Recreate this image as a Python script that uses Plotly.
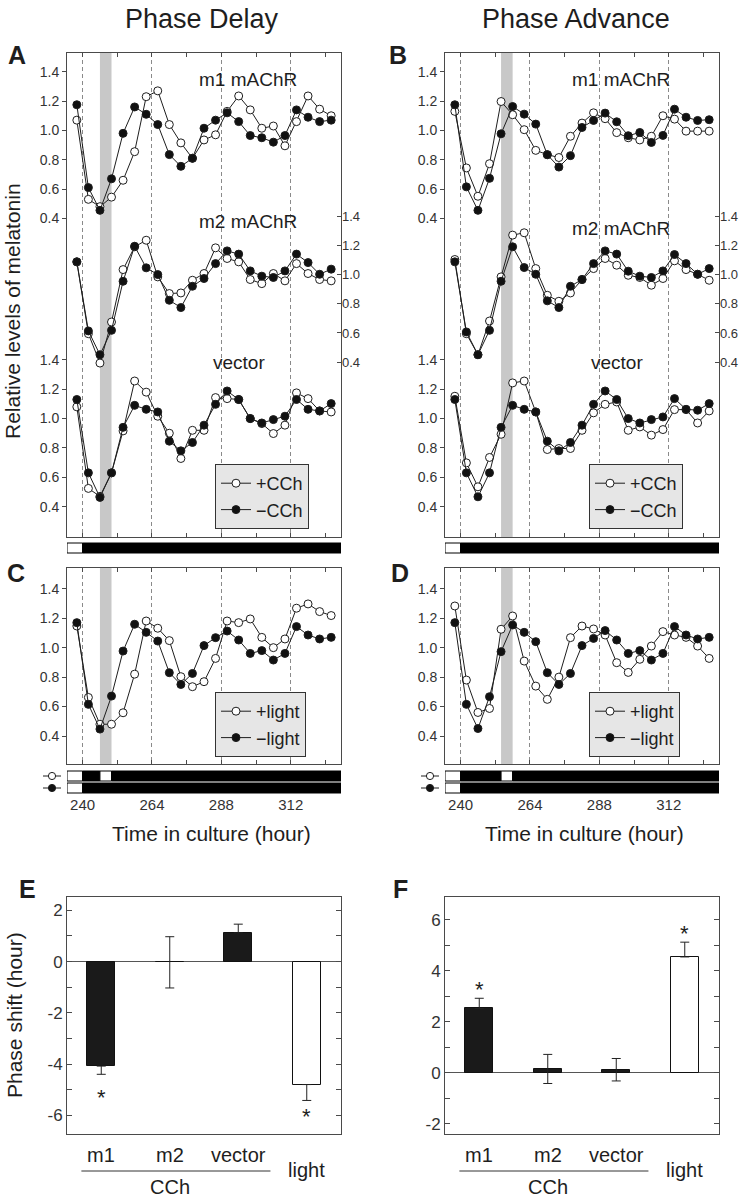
import plotly.graph_objects as go

W, H = 744, 1199
FONT = "Liberation Sans, Arial, Helvetica, sans-serif"
INK = "#1e1e1e"
FRAME = "#4a4a4a"

# ---------------- data ----------------
hours = [238, 242, 246, 250, 254, 258, 262, 266, 270, 274, 278, 282,
         286, 290, 294, 298, 302, 306, 310, 314, 318, 322, 326]

# Panel A: phase delay (CCh pulse 246-250 h)
delay_m1_pos = [1.07, 0.53, 0.48, 0.545, 0.66, 0.855, 1.23, 1.27, 1.04, 0.915, 0.81, 0.935,
                0.97, 1.13, 1.235, 1.14, 1.015, 1.03, 0.895, 1.06, 1.235, 1.145, 1.10]
delay_m1_neg = [1.175, 0.61, 0.455, 0.67, 0.98, 1.16, 1.11, 1.04, 0.835, 0.755, 0.81, 1.015,
                1.07, 1.12, 1.06, 0.965, 0.95, 0.92, 0.965, 1.14, 1.09, 1.06, 1.07]
delay_m2_pos = [1.087, 0.595, 0.394, 0.675, 1.034, 1.19, 1.235, 0.984, 0.87, 0.874, 0.961, 1.007,
                1.183, 1.11, 1.087, 0.966, 0.938, 1.007, 0.957, 1.075, 1.007, 0.966, 0.957]
delay_m2_neg = [1.087, 0.614, 0.451, 0.618, 0.954, 1.194, 1.046, 1.0, 0.824, 0.774, 0.92, 0.973,
                1.075, 1.162, 1.14, 1.025, 0.989, 0.98, 1.025, 1.14, 1.082, 1.002, 1.037]
delay_vec_pos = [1.08, 0.524, 0.47, 0.63, 0.916, 1.256, 1.18, 1.016, 0.9, 0.728, 0.92, 0.92,
                 1.143, 1.136, 1.13, 1.0, 0.966, 0.898, 0.955, 1.175, 1.136, 1.052, 1.045]
delay_vec_neg = [1.13, 0.63, 0.463, 0.63, 0.94, 1.09, 1.063, 1.045, 0.846, 0.78, 0.837, 0.955,
                 1.097, 1.188, 1.13, 1.0, 0.97, 0.993, 1.016, 1.13, 1.063, 1.052, 1.102]

# Panel B: phase advance (CCh pulse 254-258 h)
adv_m1_pos = [1.13, 0.744, 0.551, 0.773, 1.197, 1.107, 1.005, 0.864, 0.835, 0.815, 0.96, 1.05,
              1.12, 1.08, 0.985, 0.95, 0.935, 0.96, 1.10, 1.077, 0.995, 0.995, 0.995]
adv_m1_neg = [1.175, 0.615, 0.455, 0.673, 0.977, 1.163, 1.111, 1.043, 0.834, 0.75, 0.828, 1.02,
              1.068, 1.118, 1.059, 0.964, 0.986, 0.918, 0.966, 1.145, 1.09, 1.068, 1.073]
adv_m2_pos = [1.103, 0.595, 0.451, 0.682, 0.984, 1.27, 1.286, 1.041, 0.858, 0.817, 0.874, 0.966,
              1.041, 1.11, 1.064, 0.995, 0.98, 0.927, 0.973, 1.094, 1.034, 1.002, 0.961]
adv_m2_neg = [1.087, 0.607, 0.451, 0.618, 0.954, 1.19, 1.048, 1.002, 0.82, 0.774, 0.92, 0.966,
              1.075, 1.162, 1.14, 1.023, 0.989, 0.98, 1.025, 1.137, 1.075, 1.002, 1.041]
adv_vec_pos = [1.152, 0.698, 0.535, 0.735, 0.893, 1.243, 1.256, 1.045, 0.789, 0.796, 0.796, 0.92,
               1.039, 1.097, 1.113, 0.92, 0.943, 0.887, 0.925, 1.061, 1.061, 0.97, 1.052]
adv_vec_neg = [1.13, 0.63, 0.467, 0.63, 0.94, 1.09, 1.063, 1.045, 0.846, 0.78, 0.837, 0.955,
               1.097, 1.188, 1.13, 1.0, 0.97, 0.993, 1.011, 1.136, 1.063, 1.057, 1.102]

# Panel C / D: light pulses
delay_light_pos = [1.147, 0.662, 0.48, 0.48, 0.558, 0.82, 1.181, 1.132, 1.048, 0.803, 0.735, 0.769,
                   0.927, 1.181, 1.17, 1.195, 1.07, 1.0, 1.059, 1.268, 1.297, 1.245, 1.218]
delay_light_neg = [1.17, 0.615, 0.447, 0.671, 0.977, 1.159, 1.104, 1.045, 0.83, 0.75, 0.825, 1.014,
                   1.068, 1.113, 1.052, 0.961, 0.98, 0.916, 0.961, 1.143, 1.086, 1.059, 1.07]
adv_light_pos = [1.283, 0.78, 0.56, 0.587, 1.125, 1.215, 0.909, 0.739, 0.649, 0.8, 1.068, 1.147,
                 1.127, 1.086, 0.898, 0.832, 0.921, 1.011, 1.109, 1.086, 1.07, 1.011, 0.927]
adv_light_neg = [1.17, 0.615, 0.451, 0.667, 0.973, 1.154, 1.104, 1.041, 0.83, 0.75, 0.825, 1.014,
                 1.063, 1.116, 1.052, 0.961, 0.98, 0.916, 0.961, 1.143, 1.086, 1.059, 1.07]

# schedule
lights_off = 240
pulse_delay = (246, 250)
pulse_advance = (254, 258)

# Panels E / F: phase shifts
groups = ["m1", "m2", "vector", "light"]
delay_shift = [-4.08, -0.03, 1.12, -4.8]
delay_err_plus = [0.0, 1.0, 0.34, 0.0]
delay_err_minus = [0.32, 1.0, 0.0, 0.62]
adv_shift = [2.52, 0.15, 0.12, 4.54]
adv_err_plus = [0.4, 0.57, 0.44, 0.58]
adv_err_minus = [0.0, 0.57, 0.44, 0.0]
bar_fill = ["#1a1a1a", "#1a1a1a", "#1a1a1a", "#ffffff"]
signif = [True, False, False, True]

time_ticks = [240, 264, 288, 312]
time_minor = [252, 276, 300, 324]
time_range = [234.6, 329.4]
mel_ticks = [0.4, 0.6, 0.8, 1.0, 1.2, 1.4]

# ---------------- helpers ----------------
def px(x):
    return x / W

def py(y):
    return 1 - y / H

fig = go.Figure()

def add_pair(xa, ya, pos, neg, names, legend, show):
    common = dict(x=hours, mode="lines+markers", xaxis=xa, yaxis=ya,
                  line=dict(color=INK, width=1), legend=legend, showlegend=show)
    fig.add_trace(go.Scatter(y=pos, name=names[0],
                             marker=dict(symbol="circle", size=8, color="white",
                                         line=dict(color=INK, width=1)), **common))
    fig.add_trace(go.Scatter(y=neg, name=names[1],
                             marker=dict(symbol="circle", size=8, color="#111111",
                                         line=dict(color=INK, width=1)), **common))

cch = ["+CCh", "\u2212CCh"]
lgt = ["+light", "\u2212light"]
add_pair("x", "y", delay_m1_pos, delay_m1_neg, cch, "legend", True)
add_pair("x", "y2", delay_m2_pos, delay_m2_neg, cch, "legend", False)
add_pair("x", "y3", delay_vec_pos, delay_vec_neg, cch, "legend", False)
add_pair("x2", "y4", adv_m1_pos, adv_m1_neg, cch, "legend2", True)
add_pair("x2", "y5", adv_m2_pos, adv_m2_neg, cch, "legend2", False)
add_pair("x2", "y6", adv_vec_pos, adv_vec_neg, cch, "legend2", False)
add_pair("x3", "y7", delay_light_pos, delay_light_neg, lgt, "legend3", True)
add_pair("x4", "y8", adv_light_pos, adv_light_neg, lgt, "legend4", True)

def add_bars(xa, ya, vals, ep, em):
    fig.add_trace(go.Bar(x=list(range(len(groups))), y=vals, xaxis=xa, yaxis=ya, width=0.41,
                         marker=dict(color=bar_fill, line=dict(color="#111111", width=1)),
                         error_y=dict(type="data", array=ep, arrayminus=em, color="#222222",
                                      thickness=1, width=4.5),
                         showlegend=False))

add_bars("x5", "y9", delay_shift, delay_err_plus, delay_err_minus)
add_bars("x6", "y10", adv_shift, adv_err_plus, adv_err_minus)

# ---------------- axes ----------------
def time_axis(dom, anchor, labels):
    return dict(domain=[px(dom[0]), px(dom[1])], anchor=anchor, range=time_range,
                tickvals=time_ticks, ticks="inside", ticklen=4, tickcolor=FRAME,
                showticklabels=labels, tickfont=dict(family=FONT, size=15, color="#333333"),
                ticklabelstandoff=27,
                showgrid=True, gridcolor="#8a8a8a", gridwidth=1, griddash="4px,3px",
                minor=dict(tickvals=time_minor, ticks="inside", ticklen=4, tickcolor=FRAME,
                           showgrid=False),
                showline=True, linecolor=FRAME, linewidth=1, mirror="ticks", zeroline=False)

def mel_axis(rng, anchor, side="left", overlay=None, dom=None, frame=False):
    right = side == "right"
    d = dict(range=rng, anchor=anchor, side=side, tickvals=mel_ticks, tickformat=".1f",
             ticks="inside" if right else "outside", ticklen=4, tickcolor=FRAME,
             tickfont=dict(family=FONT, size=13 if right else 14, color="#333333"),
             showgrid=False, zeroline=False, showline=frame, linecolor=FRAME,
             linewidth=1, mirror=True if frame else False)
    if overlay:
        d["overlaying"] = overlay
    if dom:
        d["domain"] = [py(dom[1]), py(dom[0])]
    return d

AB_y = (53, 537)
CD_y = (568, 764)
EF_y = (897, 1134)
left_x = (67, 341)
right_x = (445, 719)

layout_axes = dict(
    xaxis=time_axis(left_x, "y", False),
    yaxis=mel_axis([-1.773, 1.528], "x", dom=AB_y, frame=True),
    yaxis2=mel_axis([-0.797, 2.517], "x", side="right", overlay="y"),
    yaxis3=mel_axis([0.193, 3.491], "x", overlay="y"),
    xaxis2=time_axis(right_x, "y4", False),
    yaxis4=mel_axis([-1.773, 1.528], "x2", dom=AB_y, frame=True),
    yaxis5=mel_axis([-0.797, 2.517], "x2", side="right", overlay="y4"),
    yaxis6=mel_axis([0.193, 3.491], "x2", overlay="y4"),
    xaxis3=time_axis(left_x, "y7", True),
    yaxis7=mel_axis([0.21, 1.541], "x3", dom=CD_y, frame=True),
    xaxis4=time_axis(right_x, "y8", True),
    yaxis8=mel_axis([0.21, 1.541], "x4", dom=CD_y, frame=True),
)

def bar_xaxis(dom, anchor):
    return dict(domain=[px(dom[0]), px(dom[1])], anchor=anchor, range=[-0.5, 3.5],
                showticklabels=False, ticks="", showgrid=False, zeroline=False,
                showline=True, linecolor=FRAME, linewidth=1, mirror=True)

def bar_yaxis(rng, anchor, major, minor_vals):
    return dict(domain=[py(EF_y[1]), py(EF_y[0])], anchor=anchor, range=rng,
                tickvals=major, ticktext=[str(v) for v in major],
                ticks="inside", ticklen=5, tickcolor=FRAME,
                tickfont=dict(family=FONT, size=17, color="#333333"),
                minor=dict(tickvals=minor_vals, ticks="inside", ticklen=5, tickcolor=FRAME),
                showgrid=False, zeroline=True, zerolinecolor="#555555", zerolinewidth=1,
                showline=True, linecolor=FRAME, linewidth=1, mirror="ticks")

layout_axes.update(
    xaxis5=bar_xaxis(left_x, "y9"),
    yaxis9=bar_yaxis([-6.73, 2.52], "x5", [-6, -4, -2, 0, 2], [-5, -3, -1, 1]),
    xaxis6=bar_xaxis(right_x, "y10"),
    yaxis10=bar_yaxis([-2.4, 6.89], "x6", [-2, 0, 2, 4, 6], [-1, 1, 3, 5]),
)

# ---------------- legends ----------------
def legend_box(x, y):
    return dict(x=px(x), y=py(y), xanchor="left", yanchor="top", bgcolor="#e6e6e6",
                bordercolor="#333333", borderwidth=1, itemwidth=30, tracegroupgap=0,
                font=dict(family=FONT, size=18, color=INK), traceorder="normal")

# ---------------- shapes ----------------
shapes = []

def pulse_band(xref, yref, pulse):
    shapes.append(dict(type="rect", xref=xref, yref=yref + " domain", x0=pulse[0], x1=pulse[1],
                       y0=0, y1=1, fillcolor="#c8c8c8", line=dict(width=0), layer="below"))

pulse_band("x", "y", pulse_delay)
pulse_band("x2", "y4", pulse_advance)
pulse_band("x3", "y7", pulse_delay)
pulse_band("x4", "y8", pulse_advance)

def ld_bar(xref, ytop, ybot, light_pulse=None):
    y0, y1 = py(ybot), py(ytop)
    segs = [(time_range[0], lights_off, "white")]
    if light_pulse:
        segs += [(lights_off, light_pulse[0], "black"), (light_pulse[0], light_pulse[1], "white"),
                 (light_pulse[1], time_range[1], "black")]
    else:
        segs += [(lights_off, time_range[1], "black")]
    for a, b, c in segs:
        shapes.append(dict(type="rect", xref=xref, yref="paper", x0=a, x1=b, y0=y0, y1=y1,
                           fillcolor=c, line=dict(color="black", width=1)))

ld_bar("x", 543, 553)
ld_bar("x2", 543, 553)
ld_bar("x3", 771, 781, pulse_delay)
ld_bar("x3", 783, 793)
ld_bar("x4", 771, 781, pulse_advance)
ld_bar("x4", 783, 793)

def key_symbol(cx, cy, filled):
    shapes.append(dict(type="line", xref="paper", yref="paper", x0=px(cx - 9), x1=px(cx + 9),
                       y0=py(cy), y1=py(cy), line=dict(color=INK, width=1)))
    r = 3.6
    shapes.append(dict(type="circle", xref="paper", yref="paper", x0=px(cx - r), x1=px(cx + r),
                       y0=py(cy + r), y1=py(cy - r), fillcolor="#111111" if filled else "white",
                       line=dict(color=INK, width=1)))

key_symbol(52, 776, False)
key_symbol(52, 788, True)
key_symbol(430, 776, False)
key_symbol(430, 788, True)

# CCh underline
for xa in ("x5", "x6"):
    shapes.append(dict(type="line", xref=xa, yref="paper", x0=-0.29, x1=2.47,
                       y0=py(1171), y1=py(1171), line=dict(color="#333333", width=1)))

# ---------------- annotations ----------------
ann = []

def text(x, y, s, size, bold=False, xref="paper", yref="paper", **kw):
    ann.append(dict(x=x, y=y, xref=xref, yref=yref, text=f"<b>{s}</b>" if bold else s,
                    showarrow=False, font=dict(family=FONT, size=size, color=INK),
                    xanchor=kw.pop("xanchor", "center"), yanchor=kw.pop("yanchor", "middle"), **kw))

text(px(202), py(19), "Phase Delay", 27)
text(px(576), py(19), "Phase Advance", 27)
for lab, (x, y) in {"A": (17, 55), "B": (398, 55), "C": (16, 573), "D": (400, 573),
                    "E": (27, 889), "F": (400, 889)}.items():
    text(px(x), py(y), lab, 25, bold=True)

text(px(248), py(80), "m1 mAChR", 19)
text(px(248), py(222), "m2 mAChR", 19)
text(px(239), py(363), "vector", 19)
text(px(621), py(80), "m1 mAChR", 19)
text(px(621), py(228), "m2 mAChR", 19)
text(px(617), py(363), "vector", 19)

text(px(13), py(311), "Relative levels of melatonin", 21, textangle=-90)
text(px(14), py(1015), "Phase shift (hour)", 21, textangle=-90)
text(px(211), py(833), "Time in culture (hour)", 21)
text(px(584), py(833), "Time in culture (hour)", 21)

star_shift = {("x5", 0): -9, ("x5", 3): -2, ("x6", 0): -6, ("x6", 3): -6}
for xa, vals, ep, em in (("x5", delay_shift, delay_err_plus, delay_err_minus),
                         ("x6", adv_shift, adv_err_plus, adv_err_minus)):
    ya = "y9" if xa == "x5" else "y10"
    for i, g in enumerate(groups):
        if g == "light":
            text(i, py(1170), g, 20, xref=xa)
        else:
            text(i, py(1155), g, 20, xref=xa)
        if signif[i]:
            if vals[i] < 0:
                text(i, vals[i] - em[i], "*", 22, xref=xa, yref=ya, yanchor="top",
                     yshift=star_shift[(xa, i)])
            else:
                text(i, vals[i] + ep[i], "*", 22, xref=xa, yref=ya, yanchor="bottom",
                     yshift=star_shift[(xa, i)])
    text(1, py(1187), "CCh", 20, xref=xa)

fig.update_layout(
    width=W, height=H, autosize=False,
    margin=dict(l=0, r=0, t=0, b=0),
    paper_bgcolor="white", plot_bgcolor="white",
    font=dict(family=FONT, color=INK),
    legend=legend_box(215, 464), legend2=legend_box(589, 464),
    legend3=legend_box(215, 692), legend4=legend_box(589, 692),
    shapes=shapes, annotations=ann, bargap=0,
    **layout_axes,
)

fig.write_html("out.html", config={"displayModeBar": False},
               post_script="document.body.style.margin='0px';")
